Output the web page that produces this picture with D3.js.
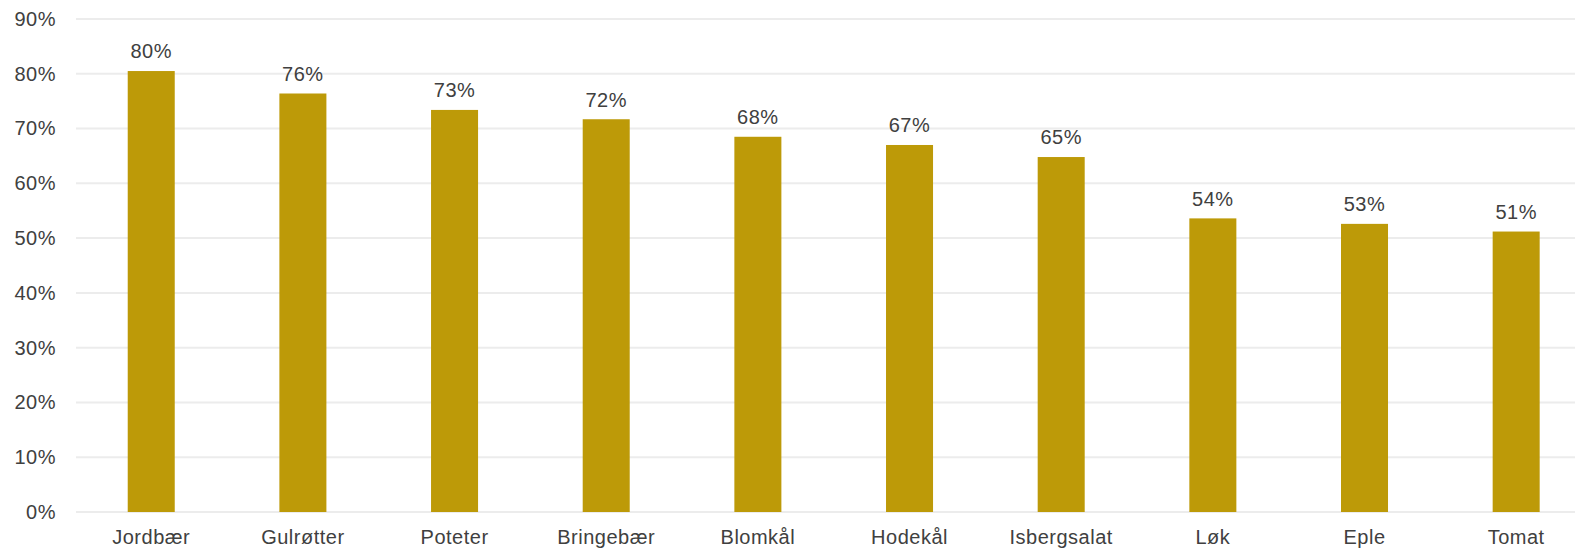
<!DOCTYPE html>
<html>
<head>
<meta charset="utf-8">
<script src="https://cdn.jsdelivr.net/npm/d3@7"></script>
<style>
  html, body { margin: 0; padding: 0; background: #fff; }
  svg { display: block; font-family: "Liberation Sans", Arial, sans-serif; }
</style>
</head>
<body>
<div id="chart"></div>
<script>
const categories = ['Jordbær', 'Gulrøtter', 'Poteter', 'Bringebær', 'Blomkål', 'Hodekål', 'Isbergsalat', 'Løk', 'Eple', 'Tomat'];
const values = [80.5, 76.4, 73.4, 71.7, 68.5, 67.0, 64.8, 53.6, 52.6, 51.2];
const labels = ['80%', '76%', '73%', '72%', '68%', '67%', '65%', '54%', '53%', '51%'];
const yTicks = [0, 10, 20, 30, 40, 50, 60, 70, 80, 90];

const width = 1575, height = 550;
const svg = d3.select('#chart').append('svg')
  .attr('width', width)
  .attr('height', height);

// plot runs past the right edge in the original (it is cropped)
const x = d3.scaleBand()
  .domain(categories)
  .range([75.4, 1592])
  .paddingInner(0.69)
  .paddingOuter(0.345);

const y = d3.scaleLinear()
  .domain([0, 90])
  .range([512, 19]);

// gridlines
svg.append('g')
  .selectAll('line')
  .data(yTicks)
  .join('line')
  .attr('x1', 76)
  .attr('x2', width)
  .attr('y1', d => y(d))
  .attr('y2', d => y(d))
  .attr('stroke', '#ececec')
  .attr('stroke-width', 2);

// y axis labels
const yAxis = svg.append('g')
  .attr('transform', 'translate(56,0)')
  .call(d3.axisLeft(y).tickValues(yTicks).tickFormat(d => d + '%').tickSize(0).tickPadding(0));
yAxis.select('.domain').remove();
yAxis.selectAll('text')
  .attr('fill', '#404040')
  .attr('font-size', 20)
  .attr('letter-spacing', 0.5)
  .attr('font-family', '"Liberation Sans", Arial, sans-serif');

// bars
svg.append('g')
  .selectAll('rect')
  .data(values)
  .join('rect')
  .attr('x', (d, i) => x(categories[i]))
  .attr('y', d => y(d))
  .attr('width', x.bandwidth())
  .attr('height', d => y(0) - y(d))
  .attr('fill', '#bd9a08');

// value labels
svg.append('g')
  .selectAll('text')
  .data(values)
  .join('text')
  .attr('x', (d, i) => x(categories[i]) + x.bandwidth() / 2)
  .attr('y', d => y(d) - 12.7)
  .attr('text-anchor', 'middle')
  .attr('fill', '#404040')
  .attr('font-size', 20)
  .attr('letter-spacing', 0.5)
  .text((d, i) => labels[i]);

// category labels
const xAxis = svg.append('g')
  .attr('transform', `translate(0,${y(0)})`)
  .call(d3.axisBottom(x).tickSize(0).tickPadding(0));
xAxis.select('.domain').remove();
xAxis.selectAll('text')
  .attr('dy', 32)
  .attr('fill', '#404040')
  .attr('font-size', 20)
  .attr('letter-spacing', 0.5)
  .attr('font-family', '"Liberation Sans", Arial, sans-serif');
</script>
</body>
</html>
